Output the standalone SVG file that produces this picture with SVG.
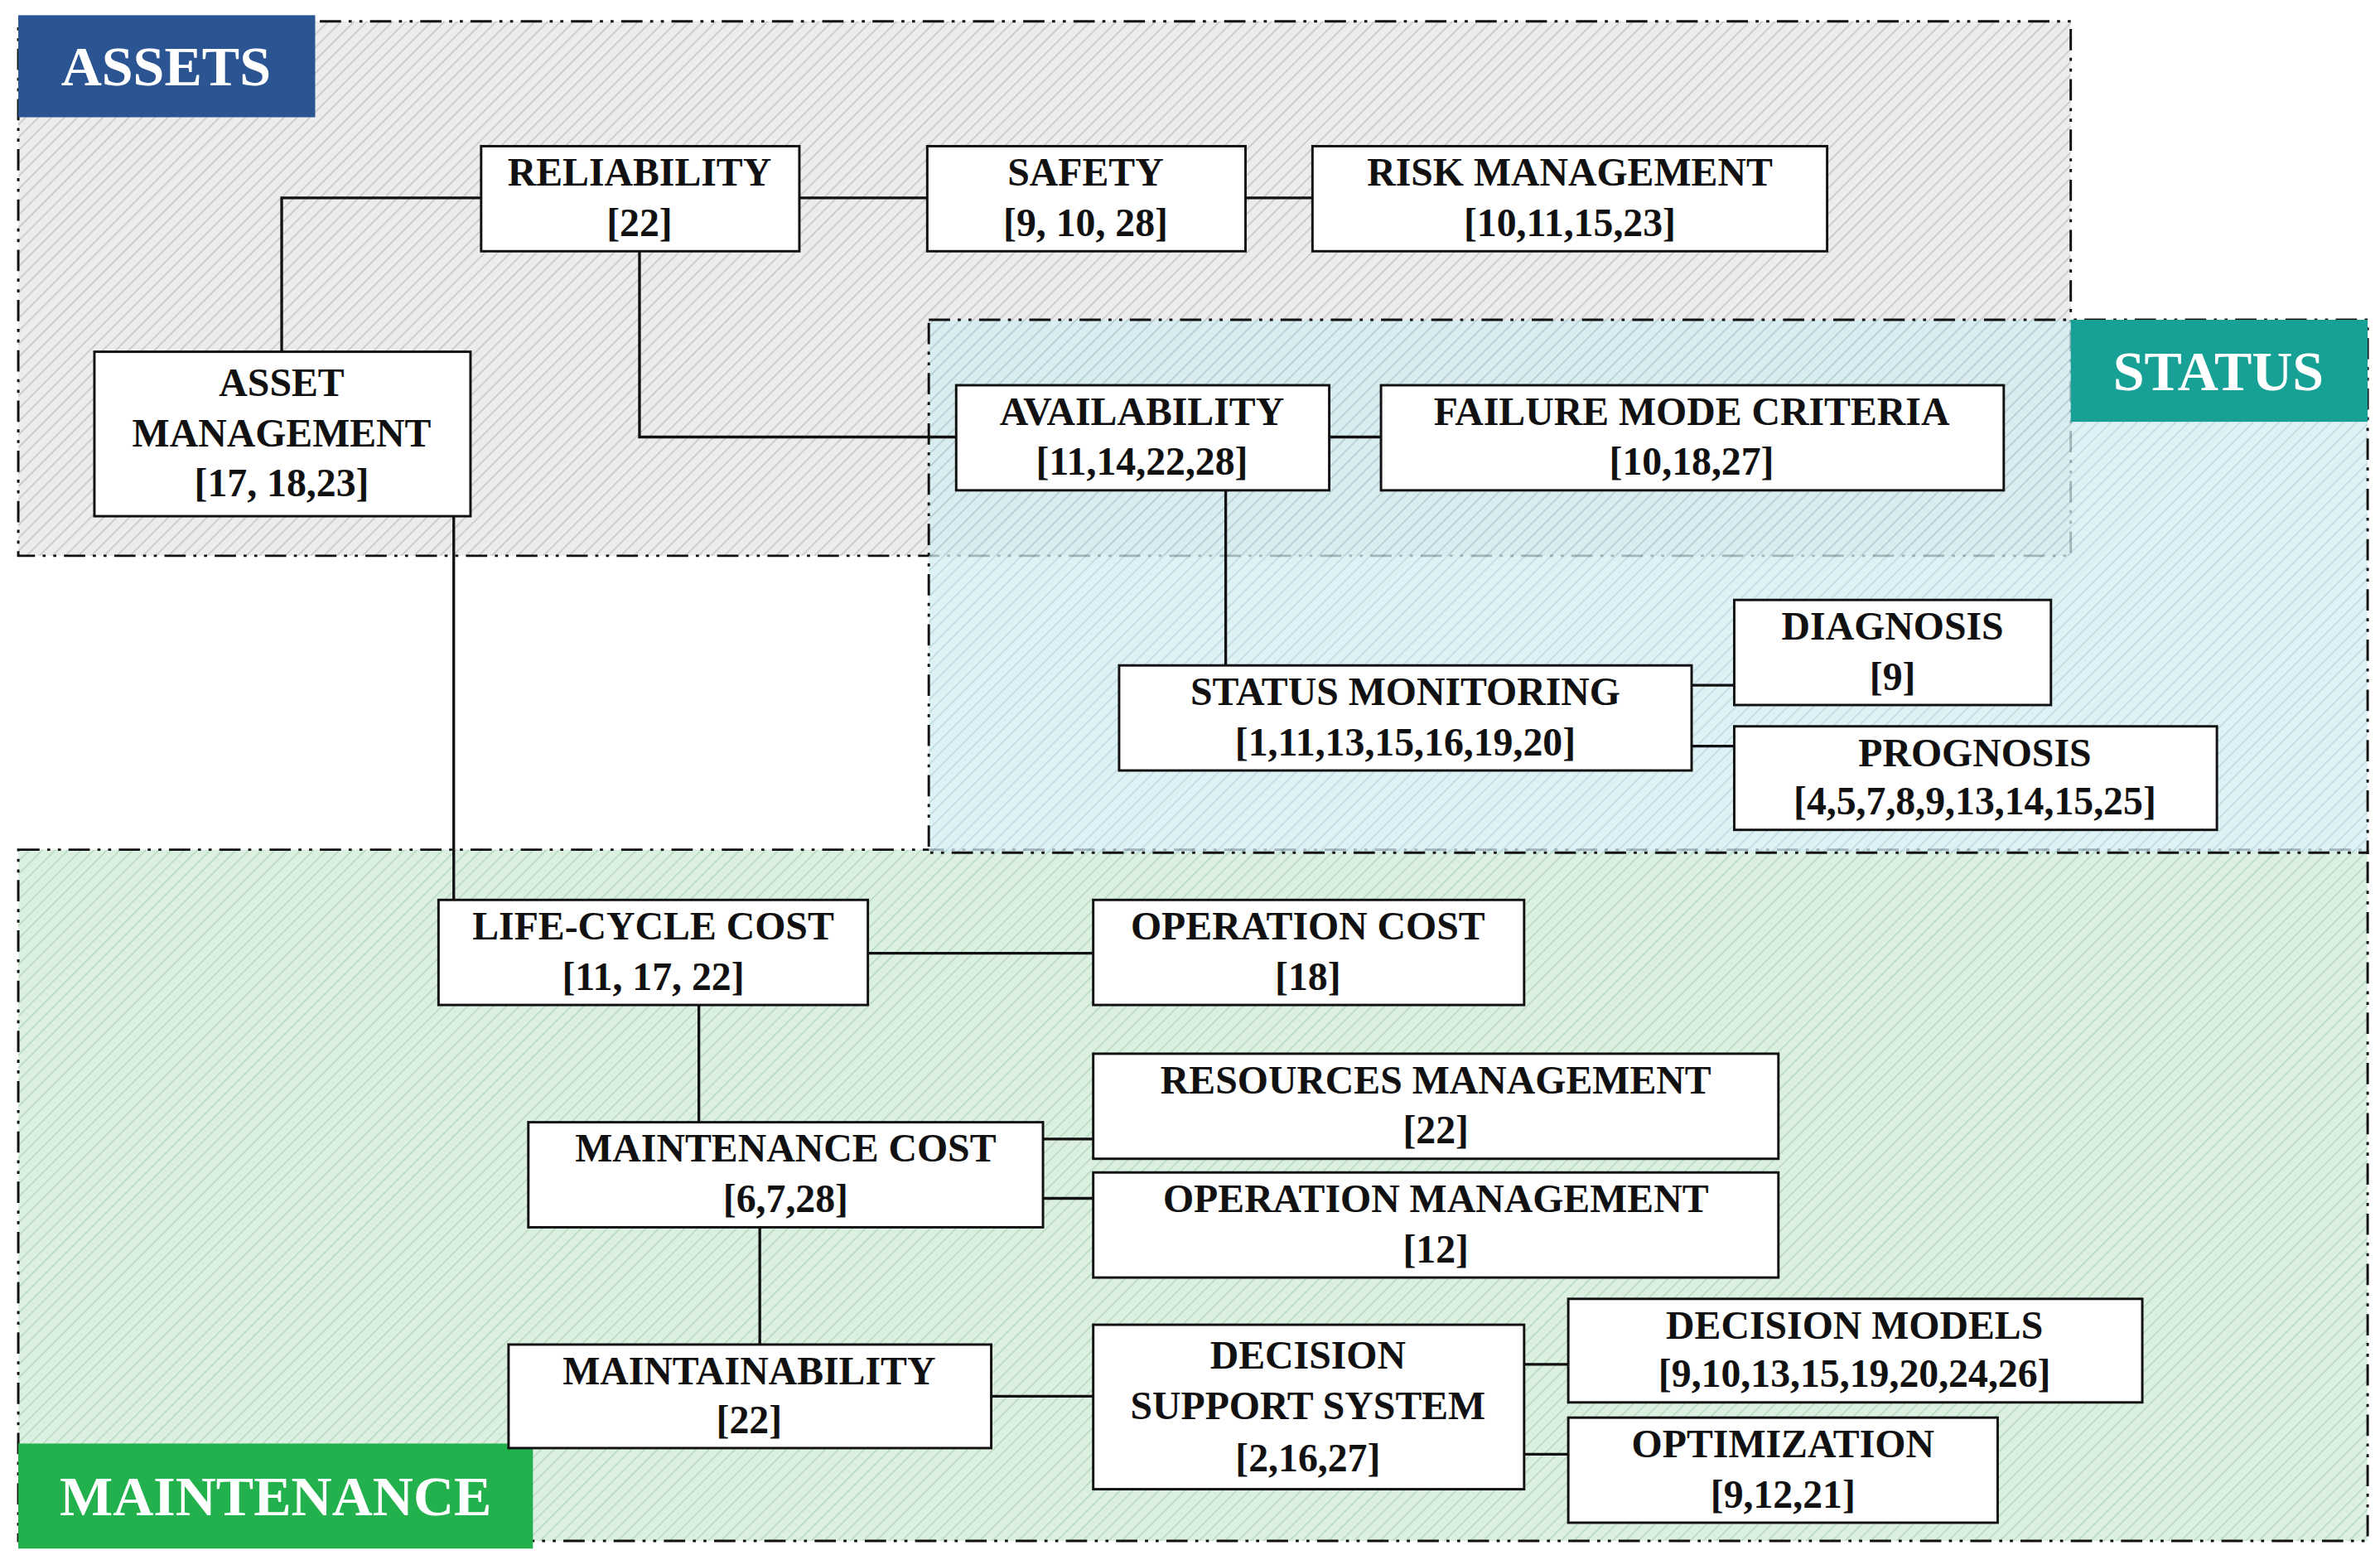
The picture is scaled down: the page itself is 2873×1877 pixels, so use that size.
<svg xmlns="http://www.w3.org/2000/svg" width="2873" height="1877" viewBox="0 0 2873 1877">
<defs>
<pattern id="hg" width="6" height="6" patternUnits="userSpaceOnUse" patternTransform="rotate(45)"><rect width="6" height="6" fill="#ececec"/><line x1="0" y1="0" x2="0" y2="6" stroke="#c4c4c4" stroke-width="1.6"/></pattern>
<pattern id="hb" width="6" height="6" patternUnits="userSpaceOnUse" patternTransform="rotate(45)"><rect width="6" height="6" fill="#d3ecf1"/><line x1="0" y1="0" x2="0" y2="6" stroke="#a8cdd6" stroke-width="1.6"/></pattern>
<pattern id="hm" width="6" height="6" patternUnits="userSpaceOnUse" patternTransform="rotate(45)"><rect width="6" height="6" fill="#dcf0e1"/><line x1="0" y1="0" x2="0" y2="6" stroke="#b5d9bd" stroke-width="1.6"/></pattern>
<style>
.reg{stroke:#111;stroke-width:1.6;stroke-dasharray:14,5,2,5,2,5}
.n rect{fill:#fff;stroke:#111;stroke-width:1.6}
.n text,.t{font-family:"Liberation Serif",serif;font-weight:bold;font-size:26px;text-anchor:middle;fill:#111}
.lab{font-family:"Liberation Serif",serif;font-size:37px;font-weight:bold;fill:#fff;text-anchor:middle}
#conn path{fill:none;stroke:#111;stroke-width:1.8}
</style>
</defs>
<rect width="2873" height="1877" fill="#fff"/>
<g transform="scale(1.838)">
<g id="regions">
<rect class="reg" x="12" y="14" width="1348" height="351" fill="url(#hg)"/>
<rect class="reg" x="12" y="558" width="1543" height="454" fill="url(#hm)"/>
<rect class="reg" x="610" y="210" width="945" height="350" fill="url(#hb)" fill-opacity="0.75"/>
<rect x="12" y="10" width="195" height="67" fill="#2b5592"/>
<text class="lab" x="109" y="56">ASSETS</text>
<rect x="1360" y="210" width="195" height="67" fill="#17a095"/>
<text class="lab" x="1457" y="256">STATUS</text>
<rect x="12" y="948" width="338" height="69" fill="#22b14c"/>
<text class="lab" x="181" y="995">MAINTENANCE</text>
</g>
<g id="conn">
<path d="M185,231V130H316"/>
<path d="M525,130H609"/>
<path d="M818,130H862"/>
<path d="M420,165V287H628"/>
<path d="M873,287H907"/>
<path d="M805,322V437"/>
<path d="M1111,450H1139"/>
<path d="M1111,490H1139"/>
<path d="M298,339V591"/>
<path d="M570,626H718"/>
<path d="M459,660V737"/>
<path d="M685,748H718"/>
<path d="M685,787H718"/>
<path d="M499,806V883"/>
<path d="M651,917H718"/>
<path d="M1001,896H1030"/>
<path d="M1001,955H1030"/>
</g>
<g id="reliability" class="n"><rect x="316" y="96" width="209" height="69"/><text x="420" y="122">RELIABILITY</text><text x="420" y="155">[22]</text></g>
<g id="safety" class="n"><rect x="609" y="96" width="209" height="69"/><text x="713" y="122">SAFETY</text><text x="713" y="155">[9, 10, 28]</text></g>
<g id="risk" class="n"><rect x="862" y="96" width="338" height="69"/><text x="1031" y="122">RISK MANAGEMENT</text><text x="1031" y="155">[10,11,15,23]</text></g>
<g id="asset" class="n"><rect x="62" y="231" width="247" height="108"/><text x="185" y="260">ASSET</text><text x="185" y="293">MANAGEMENT</text><text x="185" y="326">[17, 18,23]</text></g>
<g id="availability" class="n"><rect x="628" y="253" width="245" height="69"/><text x="750" y="279">AVAILABILITY</text><text x="750" y="312">[11,14,22,28]</text></g>
<g id="failure" class="n"><rect x="907" y="253" width="409" height="69"/><text x="1111" y="279">FAILURE MODE CRITERIA</text><text x="1111" y="312">[10,18,27]</text></g>
<g id="diagnosis" class="n"><rect x="1139" y="394" width="208" height="69"/><text x="1243" y="420">DIAGNOSIS</text><text x="1243" y="453">[9]</text></g>
<g id="statusmon" class="n"><rect x="735" y="437" width="376" height="69"/><text x="923" y="463">STATUS MONITORING</text><text x="923" y="496">[1,11,13,15,16,19,20]</text></g>
<g id="prognosis" class="n"><rect x="1139" y="477" width="317" height="68"/><text x="1297" y="503">PROGNOSIS</text><text x="1297" y="535">[4,5,7,8,9,13,14,15,25]</text></g>
<g id="lcc" class="n"><rect x="288" y="591" width="282" height="69"/><text x="429" y="617">LIFE-CYCLE COST</text><text x="429" y="650">[11, 17, 22]</text></g>
<g id="opcost" class="n"><rect x="718" y="591" width="283" height="69"/><text x="859" y="617">OPERATION COST</text><text x="859" y="650">[18]</text></g>
<g id="resources" class="n"><rect x="718" y="692" width="450" height="69"/><text x="943" y="718">RESOURCES MANAGEMENT</text><text x="943" y="751">[22]</text></g>
<g id="maintcost" class="n"><rect x="347" y="737" width="338" height="69"/><text x="516" y="763">MAINTENANCE COST</text><text x="516" y="796">[6,7,28]</text></g>
<g id="opmgmt" class="n"><rect x="718" y="770" width="450" height="69"/><text x="943" y="796">OPERATION MANAGEMENT</text><text x="943" y="829">[12]</text></g>
<g id="maintainability" class="n"><rect x="334" y="883" width="317" height="68"/><text x="492" y="909">MAINTAINABILITY</text><text x="492" y="941">[22]</text></g>
<g id="dss" class="n"><rect x="718" y="870" width="283" height="108"/><text x="859" y="899">DECISION</text><text x="859" y="932">SUPPORT SYSTEM</text><text x="859" y="966">[2,16,27]</text></g>
<g id="decmodels" class="n"><rect x="1030" y="853" width="377" height="68"/><text x="1218" y="879">DECISION MODELS</text><text x="1218" y="911">[9,10,13,15,19,20,24,26]</text></g>
<g id="optimization" class="n"><rect x="1030" y="931" width="282" height="69"/><text x="1171" y="957">OPTIMIZATION</text><text x="1171" y="990">[9,12,21]</text></g>
</g>
</svg>
